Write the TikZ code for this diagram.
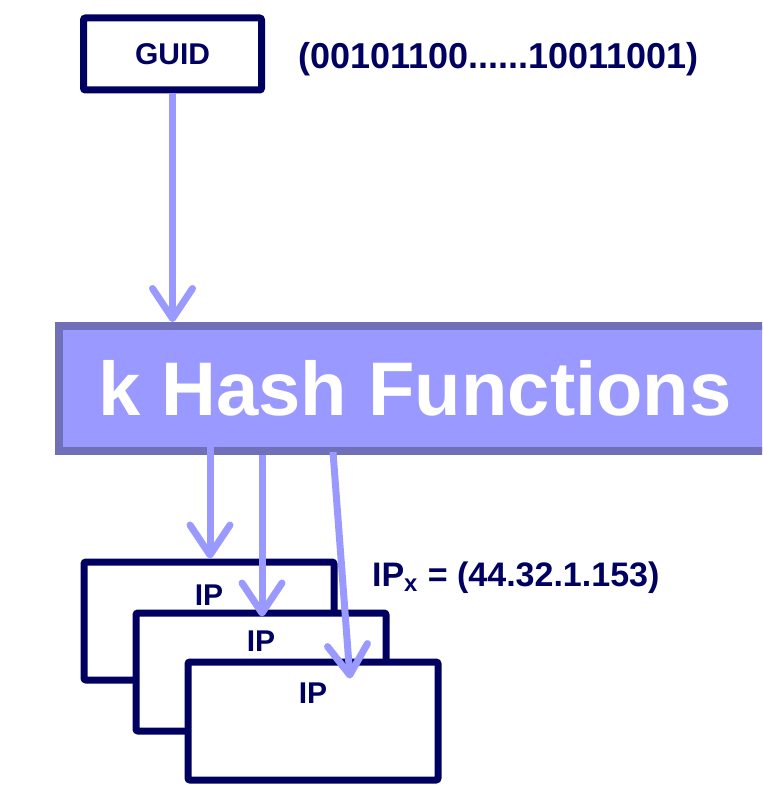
\documentclass[tikz,border=0pt]{standalone}
\usepackage{fontspec}
\setmainfont{Liberation Sans}
\usepackage{tikz}
\usetikzlibrary{arrows.meta}
\usetikzlibrary{calc}

\definecolor{guidnavy}{RGB}{0,0,96}
\definecolor{hashblue}{RGB}{153,153,255}
\definecolor{hashedge}{RGB}{112,112,184}

\begin{document}
\begin{tikzpicture}[
		  x=0.5pt, y=-0.5pt,
		  every node/.style = {align=center, text=guidnavy, font=\bfseries},
		  guidbox/.style = {shape=rectangle, rounded corners=1pt, draw=guidnavy, line width=3.5pt, fill=white, minimum width=89pt, minimum height=36pt, font=\fontsize{15}{17}\selectfont\bfseries},
		  hashbox/.style = {shape=rectangle, draw=hashedge, fill=hashblue, line width=4pt, minimum width=356.5pt, minimum height=62.5pt, text=white, font=\fontsize{38}{44}\selectfont\bfseries},
		  ipbox/.style = {shape=rectangle, rounded corners=1pt, draw=guidnavy, line width=3.5pt, fill=white, minimum width=125pt, minimum height=59pt},
		  iplab/.style = {anchor=center, font=\fontsize{15}{17}\selectfont\bfseries},
		  note/.style = {anchor=west, font=\fontsize{17}{20}\selectfont\bfseries},
		  hasharrow/.style = {draw=hashblue, line width=3.5pt, -{Straight Barb[length=15pt,width=20pt,round]}}
		]
		  \clip (0,0) rectangle (762,791);

		  \node[guidbox] (guid) at (172.5,54) {GUID};
		  \node[note, font=\fontsize{18}{21}\selectfont\bfseries] (bits) at (291,59) {(00101100......10011001)};

		  \node[hashbox] (hash) at (415,388.5) {k Hash Functions};

		  % stacked IP boxes
		  \node[ipbox, label={[iplab, yshift=-18.5pt]north:IP}] (ipa) at (209,621) {};
		  \node[ipbox, label={[iplab, yshift=-16pt]north:IP}] (ipb) at (261,672) {};
		  \node[ipbox, label={[iplab, yshift=-17.5pt]north:IP}] (ipc) at (313,721) {};
		  \node[note] (ipx) at (365,578) {IP\textsubscript{x} = (44.32.1.153)};

		  \coordinate (h1) at (210,428);
		  \coordinate (h2) at (262,455);
		  \coordinate (h3) at (333,452);

		  \draw[hasharrow] (guid.south) -- (guid.south |- hash.north);
		  \draw[hasharrow] (h1) -- (h1 |- ipa.north);
		  \draw[hasharrow] (h2) -- ([yshift=-3.5pt]h2 |- ipb.north);
		  \draw[hasharrow] (h3) -- ($(ipc.north)+(37,20)$);
		\end{tikzpicture}
\end{document}
